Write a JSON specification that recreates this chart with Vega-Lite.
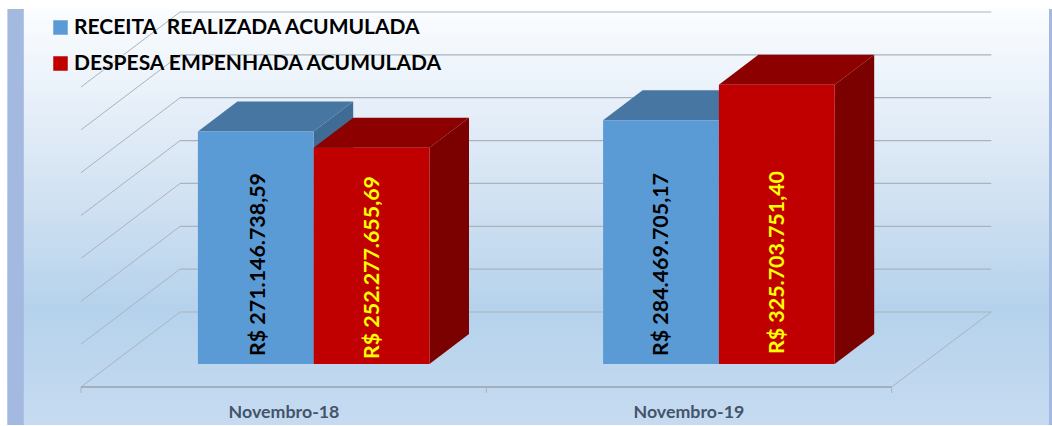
{"$schema":"https://vega.github.io/schema/vega-lite/v6.json","width":1052,"height":426,"autosize":{"type":"fit","contains":"padding"},"padding":0,"background":"white","view":{"stroke":null},
"config":{"axis":{"domain":false}},
"datasets":{
"barras":[
{"periodo":"Novembro-18","serie":"RECEITA \u00a0REALIZADA ACUMULADA","valor":271.14673859,"ini":0.7142,"fim":1.0,"rotulo":"R$ 271.146.738,59","xr":0.865,"yr":9.33},
{"periodo":"Novembro-18","serie":"DESPESA EMPENHADA ACUMULADA","valor":252.27765569,"ini":1.0,"fim":1.2858,"rotulo":"R$ 252.277.655,69","xr":1.14635,"yr":5.83},
{"periodo":"Novembro-19","serie":"RECEITA \u00a0REALIZADA ACUMULADA","valor":284.46970517,"ini":1.7142,"fim":2.0,"rotulo":"R$ 284.469.705,17","xr":1.85932,"yr":9.33},
{"periodo":"Novembro-19","serie":"DESPESA EMPENHADA ACUMULADA","valor":325.7037514,"ini":2.0,"fim":2.2858,"rotulo":"R$ 325.703.751,40","xr":2.14659,"yr":11.67}],
"lados":[
{"barra":"A","tipo":"R","x":1.0,"y":271.14674,"y2":0},{"barra":"A","tipo":"R","x":1.09748,"y":306.14674,"y2":35},
{"barra":"B","tipo":"D","x":1.2858,"y":252.27766,"y2":0},{"barra":"B","tipo":"D","x":1.38328,"y":287.27766,"y2":35},
{"barra":"C","tipo":"R","x":2.0,"y":284.46971,"y2":0},{"barra":"C","tipo":"R","x":2.09748,"y":319.46971,"y2":35},
{"barra":"D","tipo":"D","x":2.2858,"y":325.70375,"y2":0},{"barra":"D","tipo":"D","x":2.38328,"y":360.70375,"y2":35}],
"topos":[
{"barra":"A","tipo":"R","y":271.14674,"x":0.7142,"x2":1.0},{"barra":"A","tipo":"R","y":306.14674,"x":0.81168,"x2":1.09748},
{"barra":"B","tipo":"D","y":252.27766,"x":1.0,"x2":1.2858},{"barra":"B","tipo":"D","y":287.27766,"x":1.09748,"x2":1.38328},
{"barra":"C","tipo":"R","y":284.46971,"x":1.7142,"x2":2.0},{"barra":"C","tipo":"R","y":319.46971,"x":1.81168,"x2":2.09748},
{"barra":"D","tipo":"D","y":325.70375,"x":2.0,"x2":2.2858},{"barra":"D","tipo":"D","y":360.70375,"x":2.09748,"x2":2.38328}],
"parede":[{"n":60.67},{"n":110.67},{"n":160.67},{"n":210.67},{"n":260.67},{"n":310.67},{"n":360.67},{"n":410.67}],
"lateral":[{"n":60.67,"f":-26.83},{"n":110.67,"f":23.17},{"n":160.67,"f":73.17},{"n":210.67,"f":123.17},{"n":260.67,"f":173.17},{"n":310.67,"f":223.17},{"n":360.67,"f":273.17},{"n":410.67,"f":323.17}],
"marcas":[{"x":0.42571},{"x":1.42621},{"x":2.42621}],
"categorias":[{"periodo":"Novembro-18","x":0.9267,"y":-57},{"periodo":"Novembro-19","x":1.92596,"y":-57}],
"painel":[{"x":0.24408,"x2":2.81466,"y":414.17,"y2":-71.17}],
"faixas":[{"x":0.24408,"x2":0.28455,"y":414.17,"y2":-71.17},{"x":2.81466,"x2":2.82207,"y":414.17,"y2":-71.17}]
},
"encoding":{},
"layer":[
{"data":{"name":"painel"},"mark":{"type":"rect","color":{"gradient":"linear","x1":0,"y1":0,"x2":0,"y2":1,"stops":[{"offset":0,"color":"#fbfdff"},{"offset":0.3,"color":"#e0ebf7"},{"offset":0.5,"color":"#cddff1"},{"offset":0.72,"color":"#b5d2ec"},{"offset":1,"color":"#c6dbf1"}]}},
"encoding":{"x":{"field":"x","type":"quantitative","scale":{"domain":[0.22582,2.82207],"nice":false,"zero":false},"axis":null},"x2":{"field":"x2"},"y":{"field":"y","type":"quantitative","scale":{"domain":[-72.3333,424.6667],"nice":false,"zero":false},"axis":null},"y2":{"field":"y2"}}},
{"data":{"name":"faixas"},"mark":{"type":"rect","color":"#a3b9e0"},"encoding":{"x":{"field":"x","type":"quantitative"},"x2":{"field":"x2"},"y":{"field":"y","type":"quantitative"},"y2":{"field":"y2"}}},
{"data":{"name":"parede"},"mark":{"type":"rule","color":"#a9b3bc","strokeWidth":1.2},"encoding":{"x":{"datum":0.67029,"type":"quantitative"},"x2":{"datum":2.67226},"y":{"field":"n","type":"quantitative"}}},
{"data":{"name":"lateral"},"mark":{"type":"rule","color":"#a9b3bc","strokeWidth":1},"encoding":{"x":{"datum":0.42571,"type":"quantitative"},"x2":{"datum":0.67029},"y":{"field":"f","type":"quantitative"},"y2":{"field":"n"}}},
{"data":{"values":[{"a":-26.83,"b":60.67}]},"mark":{"type":"rule","color":"#a9b3bc","strokeWidth":1},"encoding":{"x":{"datum":2.42621,"type":"quantitative"},"x2":{"datum":2.67226},"y":{"field":"a","type":"quantitative"},"y2":{"field":"b"}}},
{"data":{"values":[{"a":-26.83}]},"mark":{"type":"rule","color":"#98a4ae","strokeWidth":1.5},"encoding":{"x":{"datum":0.42571,"type":"quantitative"},"x2":{"datum":2.42621},"y":{"field":"a","type":"quantitative"}}},
{"data":{"name":"marcas"},"mark":{"type":"rule","color":"#a9b3bc","strokeWidth":1},"encoding":{"x":{"field":"x","type":"quantitative"},"y":{"datum":-26.83,"type":"quantitative"},"y2":{"datum":-33.83}}},
{"data":{"name":"lados"},"transform":[{"filter":"datum.tipo==='R'"}],"mark":{"type":"area","orient":"vertical","color":"#3f6b94"},"encoding":{"x":{"field":"x","type":"quantitative"},"y":{"field":"y","type":"quantitative"},"y2":{"field":"y2"},"detail":{"field":"barra"}}},
{"data":{"name":"topos"},"transform":[{"filter":"datum.tipo==='R'"}],"mark":{"type":"area","orient":"horizontal","color":"#4776a3"},"encoding":{"y":{"field":"y","type":"quantitative"},"x":{"field":"x","type":"quantitative"},"x2":{"field":"x2"},"detail":{"field":"barra"}}},
{"data":{"name":"lados"},"transform":[{"filter":"datum.tipo==='D'"}],"mark":{"type":"area","orient":"vertical","color":"#7b0000"},"encoding":{"x":{"field":"x","type":"quantitative"},"y":{"field":"y","type":"quantitative"},"y2":{"field":"y2"},"detail":{"field":"barra"}}},
{"data":{"name":"topos"},"transform":[{"filter":"datum.tipo==='D'"}],"mark":{"type":"area","orient":"horizontal","color":"#8c0000"},"encoding":{"y":{"field":"y","type":"quantitative"},"x":{"field":"x","type":"quantitative"},"x2":{"field":"x2"},"detail":{"field":"barra"}}},
{"data":{"name":"barras"},"mark":{"type":"rect"},"encoding":{"x":{"field":"ini","type":"quantitative"},"x2":{"field":"fim"},"y":{"field":"valor","type":"quantitative"},"y2":{"datum":0},
"color":{"field":"serie","type":"nominal","scale":{"domain":["RECEITA \u00a0REALIZADA ACUMULADA","DESPESA EMPENHADA ACUMULADA"],"range":["#5b9bd5","#c00000"]},"legend":{"orient":"none","legendX":50,"legendY":17,"title":null,"symbolType":"square","symbolSize":210,"symbolStrokeWidth":0,"labelFont":"Lato","labelFontSize":21,"labelFontWeight":"bold","labelColor":"#000000","rowPadding":14,"labelLimit":500,"labelOffset":3}}}},
{"data":{"name":"barras"},"mark":{"type":"text","angle":270,"align":"left","baseline":"middle","font":"Lato","fontWeight":"bold","fontSize":21.4},"encoding":{"x":{"field":"xr","type":"quantitative"},"y":{"field":"yr","type":"quantitative"},"text":{"field":"rotulo"},"color":{"condition":{"test":"datum.serie==='DESPESA EMPENHADA ACUMULADA'","value":"#ffff00"},"value":"#000000"}}},
{"data":{"name":"categorias"},"mark":{"type":"text","align":"center","baseline":"middle","font":"Lato","fontWeight":"bold","fontSize":17.8,"color":"#44546a"},"encoding":{"x":{"field":"x","type":"quantitative"},"y":{"field":"y","type":"quantitative"},"text":{"field":"periodo"}}}
]}
